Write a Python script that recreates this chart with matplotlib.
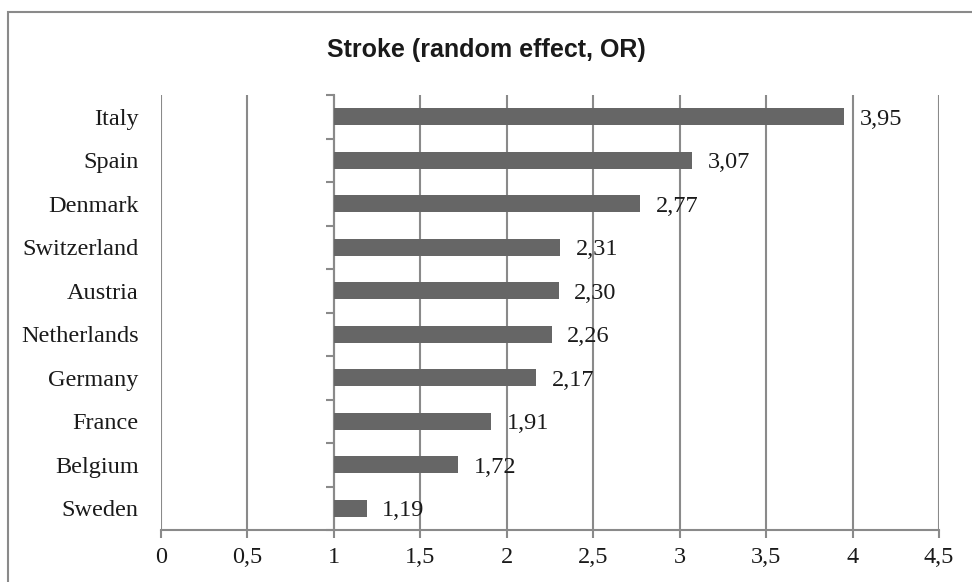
import matplotlib
matplotlib.use("Agg")
import matplotlib.pyplot as plt
from matplotlib.patches import Rectangle
from matplotlib.ticker import FixedLocator

countries = ["Italy", "Spain", "Denmark", "Switzerland", "Austria",
             "Netherlands", "Germany", "France", "Belgium", "Sweden"]
odds_ratio = [3.95, 3.07, 2.77, 2.31, 2.30, 2.26, 2.17, 1.91, 1.72, 1.19]
title = "Stroke (random effect, OR)"

grid_col = "#8a8a8a"
bar_col = "#666666"
serif = ["Liberation Serif", "DejaVu Serif"]
fs = 17.5

fig = plt.figure(figsize=(9.72, 5.82), dpi=100)
ax = fig.add_axes([161 / 972, 1 - 530 / 582, (939 - 161) / 972, (530 - 95) / 582])

# rows from top to bottom
pos = list(range(len(countries)))[::-1]
ax.barh(pos, [v - 1 for v in odds_ratio], left=1, height=0.39, color=bar_col, zorder=3)
for p, v in zip(pos, odds_ratio):
    ax.text(v + 0.09, p, f"{v:.2f}".replace(".", ","), va="center_baseline", ha="left",
            fontsize=fs, family=serif, color="#1a1a1a", zorder=4)

ax.set_xlim(0, 4.5)
ax.set_ylim(-0.5, len(countries) - 0.5)
ax.set_xticks([i * 0.5 for i in range(10)])
ax.set_xticklabels([f"{i * 0.5:g}".replace(".", ",") for i in range(10)],
                   fontsize=fs, family=serif, color="#1a1a1a")
ax.tick_params(axis="x", length=6, width=1.5, color=grid_col, pad=6)
ax.grid(axis="x", color=grid_col, linewidth=1.5, zorder=1)
ax.set_axisbelow(True)

for s in ["top", "right"]:
    ax.spines[s].set_visible(False)
ax.spines["bottom"].set_color(grid_col)
ax.spines["bottom"].set_linewidth(1.5)

# category axis sits at OR = 1
ax.spines["left"].set_position(("data", 1))
ax.spines["left"].set_color(grid_col)
ax.spines["left"].set_linewidth(1.5)
ax.yaxis.set_major_locator(FixedLocator([i - 0.5 for i in range(len(countries) + 1)]))
ax.yaxis.set_ticklabels([])
ax.tick_params(axis="y", length=6, width=1.5, color=grid_col)

sec = ax.secondary_yaxis(0.0)
sec.set_yticks(pos)
sec.set_yticklabels(countries, fontsize=fs, family=serif, color="#1a1a1a")
sec.tick_params(length=0, pad=16)
sec.spines["left"].set_visible(False)

fig.text(486 / 972, 1 - 50 / 582, title, ha="center", va="center",
         fontsize=18, fontweight="bold", family=["Liberation Sans", "DejaVu Sans"],
         color="#1a1a1a")

# chart frame (only left and top visible in the crop)
fig.patches.append(Rectangle((7.5 / 972, -0.2), 1.2, 1.2 - 11.5 / 582,
                             transform=fig.transFigure, fill=False,
                             edgecolor=grid_col, linewidth=1.5))

fig.savefig("out.png", dpi=100)
